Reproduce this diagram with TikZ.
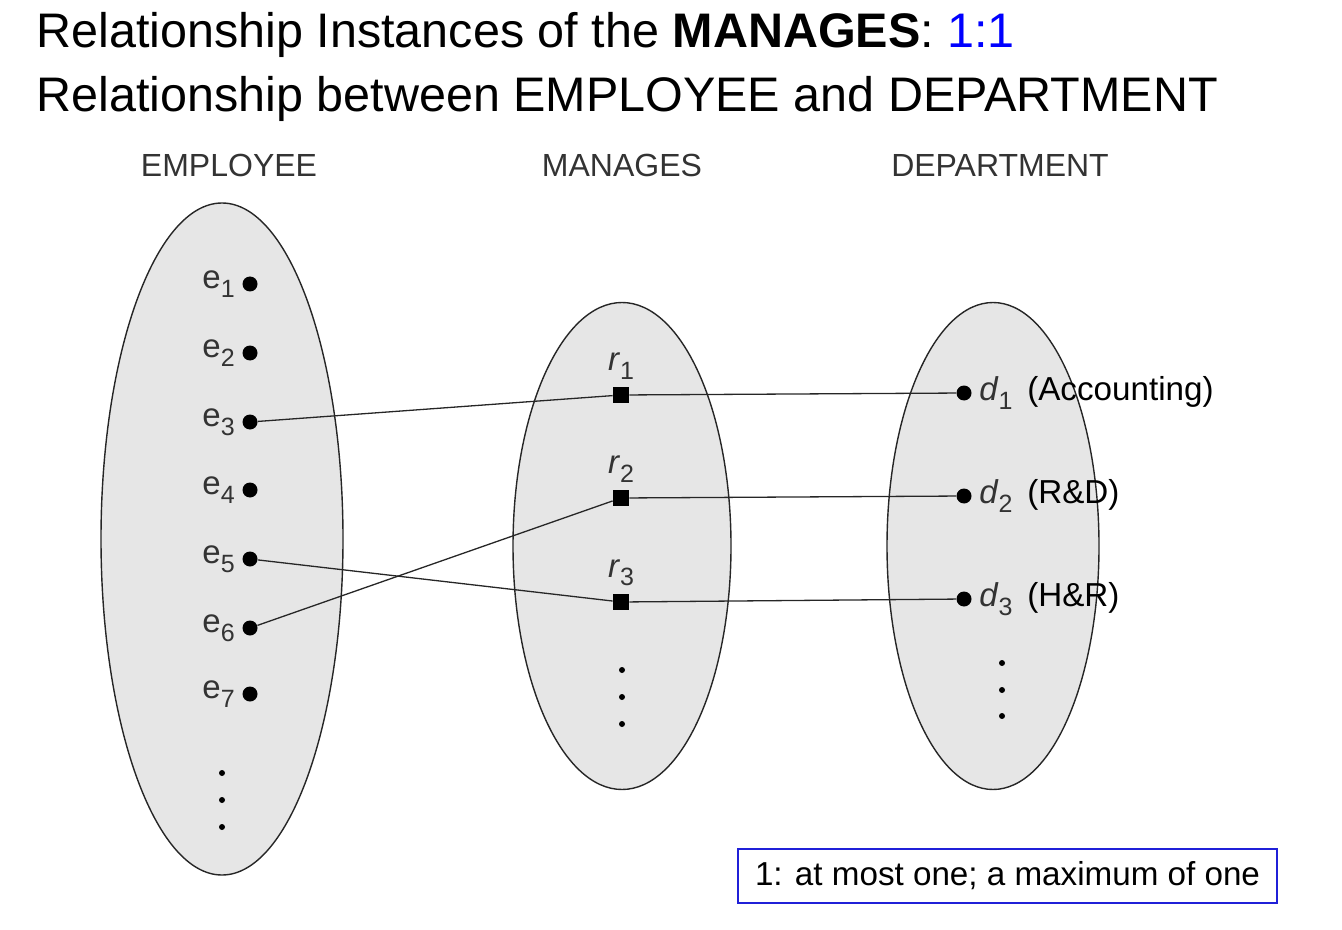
\documentclass[tikz,border=0pt]{standalone}
\usepackage{fontspec}
\setmainfont{Liberation Sans}
\usetikzlibrary{
    positioning,
    shapes.geometric
}
\definecolor{setgray}{HTML}{E6E6E6}
\definecolor{oneblue}{HTML}{0000FF}
\definecolor{boxblue}{HTML}{2020D8}
\newcommand{\idx}[1]{\raisebox{-0.5ex}{\fontsize{12.5}{13}\selectfont #1}}

\begin{document}
\begin{tikzpicture}[
    x=0.5pt, y=-0.5pt,
    label distance=2.5pt,
    titletext/.style={anchor=base west, inner sep=0pt, font=\fontsize{24.25}{29}\selectfont},
    headtext/.style={anchor=base, inner sep=0pt, text=black!80, font=\fontsize{16}{19}\selectfont},
    setshape/.style={
        ellipse, draw=black!85, fill=setgray, line width=0.7pt, inner sep=0pt
    },
    entdot/.style={circle, fill=black, minimum size=7.5pt, inner sep=0pt},
    reldot/.style={rectangle, fill=black, minimum size=8pt, inner sep=0pt},
    moredot/.style={circle, fill=black, minimum size=3pt, inner sep=0pt},
    itemlabel/.style={inner sep=1pt, text=black!80, font=\fontsize{16.5}{19}\selectfont},
    link/.style={draw=black!85, line width=0.65pt},
    notebox/.style={
        rectangle, draw=boxblue, line width=0.6pt, inner sep=0pt,
        minimum width=269.5pt, minimum height=27pt,
        font=\fontsize{16.6}{19}\selectfont
    }
]
\useasboundingbox (0,0) rectangle (1342,930);

% Title
\node[titletext] (title1) at (36,48)
    {Relationship Instances of the \textbf{MANAGES}: \textcolor{oneblue}{1:1}};
\node[titletext] (title2) at (36,112)
    {Relationship between EMPLOYEE and DEPARTMENT};

% Column heads
\node[headtext] (emp_head) at (229,177) {EMPLOYEE};
\node[headtext] (man_head) at (622,177) {MANAGES};
\node[headtext] (dep_head) at (1000,177) {DEPARTMENT};

% Entity and relationship sets
\node[setshape, minimum width=121pt, minimum height=336pt] (emp_set) at (222,539) {};
\node[setshape, minimum width=109pt, minimum height=243.5pt] (man_set) at (622,546) {};
\node[setshape, minimum width=106pt, minimum height=243.5pt] (dep_set) at (993,546) {};

% EMPLOYEE instances
\foreach \i/\y in {1/284,2/353,3/422,4/490,5/559,6/628,7/694}
    \node[entdot, label={[itemlabel]left:e\idx{\i}}] (e\i) at (250,\y) {};
\foreach \k/\y in {1/773,2/800,3/827}
    \node[moredot] (e_more\k) at (222,\y) {};

% MANAGES instances
\foreach \i/\y in {1/395,2/498,3/602}
    \node[reldot, label={[itemlabel]above:\textit{r}\idx{\i}}] (r\i) at (621,\y) {};
\foreach \k/\y in {1/670,2/697,3/724}
    \node[moredot] (r_more\k) at (622,\y) {};

% DEPARTMENT instances
\foreach \i/\y/\dname in {1/393/(Accounting),2/496/(R\&D),3/599/(H\&R)}
    \node[entdot, label={[itemlabel]right:\textit{d}\idx{\i}\hspace{0.45em}{\fontsize{16.6}{19}\selectfont\color{black}\dname}}] (d\i) at (964,\y) {};
\foreach \k/\y in {1/663,2/690,3/716}
    \node[moredot] (d_more\k) at (1002,\y) {};

% Links
\draw[link] (e3) -- (r1) -- (d1);
\draw[link] (e6) -- (r2) -- (d2);
\draw[link] (e5) -- (r3) -- (d3);

% Note
\node[notebox] (note) at (1007.5,876) {1: at most one; a maximum of one};

\end{tikzpicture}
\end{document}
